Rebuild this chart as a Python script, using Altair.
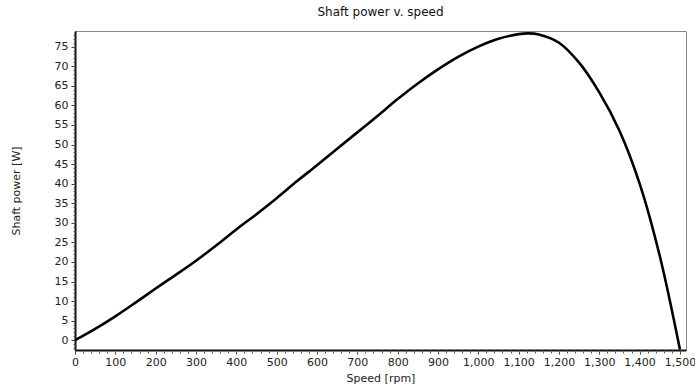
import altair as alt
import pandas as pd

speed_rpm = [0, 50, 100, 150, 200, 250, 300, 350, 400, 450, 500, 550, 600, 650,
             700, 750, 800, 850, 900, 950, 1000, 1050, 1100, 1125, 1150, 1200,
             1250, 1300, 1350, 1400, 1450, 1500]
power_w = [0.0, 2.9, 6.1, 9.6, 13.2, 16.7, 20.3, 24.2, 28.3, 32.2, 36.3, 40.6,
           44.7, 48.9, 53.1, 57.3, 61.6, 65.6, 69.2, 72.4, 75.0, 77.0, 78.2,
           78.4, 78.1, 76.0, 70.9, 63.3, 53.5, 40.0, 21.5, -2.4]

x_major = list(range(0, 1501, 100))
x_minor = list(range(0, 1501, 20))
y_major = list(range(0, 76, 5))
y_minor = list(range(-2, 79, 1))

df = pd.DataFrame({"speed": speed_rpm, "power": power_w})

FONT = "DejaVu Sans"
x_scale = alt.Scale(domain=[0, 1515], nice=False, zero=False)
y_scale = alt.Scale(domain=[-2.5, 79], nice=False, zero=False)

line = alt.Chart(df).mark_line(color="black", strokeWidth=2.6,
                               interpolate="catmull-rom").encode(
    x=alt.X("speed:Q", scale=x_scale, title="Speed [rpm]",
            axis=alt.Axis(values=x_major, format=",d", labelFontSize=11,
                          labelColor="#222", titleFontSize=11,
                          titleFontWeight="normal", titleColor="#222",
                          tickSize=4, tickColor="#333", domainColor="#111",
                          domainWidth=2, labelPadding=2, titlePadding=5,
                          grid=False, labelFont=FONT, titleFont=FONT,
                          labelFlush=False)),
    y=alt.Y("power:Q", scale=y_scale, title="Shaft power [W]",
            axis=alt.Axis(values=y_major, labelFontSize=11, labelColor="#222",
                          titleFontSize=11, titleFontWeight="normal",
                          titleColor="#222", tickSize=4, tickColor="#333",
                          domainColor="#111", domainWidth=2, labelPadding=3,
                          titlePadding=33, grid=False, labelFont=FONT,
                          titleFont=FONT)),
)

minor = alt.Chart(df).mark_line(opacity=0).encode(
    x=alt.X("speed:Q", scale=x_scale, title=None,
            axis=alt.Axis(values=x_minor, labels=False, tickSize=3,
                          tickColor="#555", domain=False, grid=False,
                          orient="bottom", ticks=True)),
    y=alt.Y("power:Q", scale=y_scale, title=None,
            axis=alt.Axis(values=y_minor, labels=False, tickSize=2,
                          tickColor="#555", domain=False, grid=False,
                          orient="left", ticks=True)),
)

chart = alt.layer(line, minor).resolve_axis(x="independent", y="independent").properties(
    width=611, height=319,
    title=alt.TitleParams("Shaft power v. speed", fontSize=12, font=FONT,
                          fontWeight="normal", color="#111", offset=9),
    autosize=alt.AutoSizeParams(type="none"),
    padding={"left": 75, "top": 31, "right": 9, "bottom": 39},
).configure_view(stroke="#888", strokeWidth=1)

chart.save("out.html", embed_options={"renderer": "svg", "actions": False})
